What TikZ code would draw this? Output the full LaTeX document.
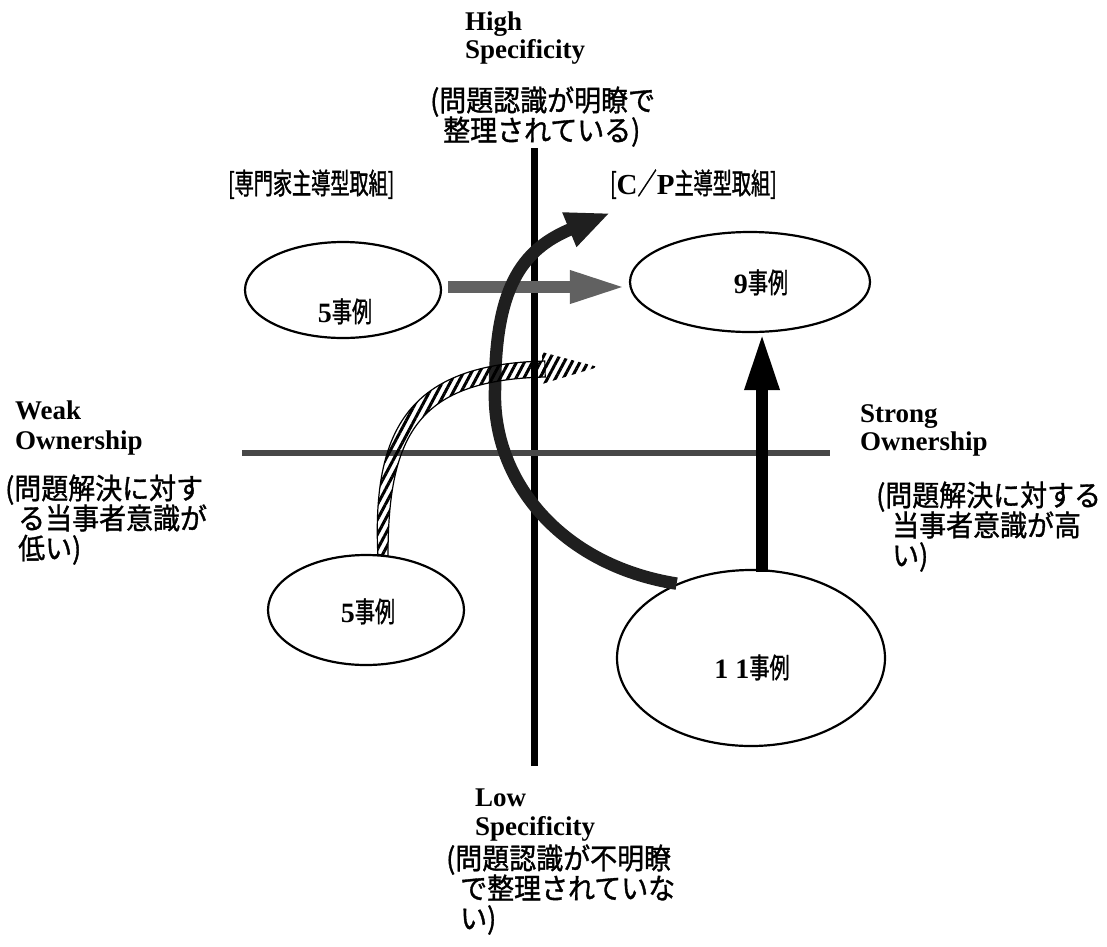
\documentclass[tikz,border=0pt]{standalone}
\usepackage{fontspec}
\setmainfont{Liberation Serif}
\newfontfamily\jpn[FakeStretch=0.93,FakeBold=1.2]{Noto Sans CJK JP}
\newfontfamily\jpc[FakeStretch=0.66,FakeBold=1.2]{Noto Sans CJK JP}
\newfontfamily\jpe[FakeStretch=0.72,FakeBold=1.2]{Noto Sans CJK JP}
\usetikzlibrary{arrows.meta,shapes.geometric,patterns.meta,calc}
\tikzset{
  lat/.style={anchor=base west, inner sep=0pt, font=\fontsize{27}{30}\selectfont\bfseries},
  jt/.style={anchor=base west, inner sep=0pt, font=\jpn\fontsize{29}{30}\selectfont},
  hd/.style={anchor=base west, inner sep=0pt, font=\jpc\fontsize{29}{30}\selectfont},
  el/.style={ellipse, draw, line width=2.2pt, inner sep=0pt},
  eltext/.style={anchor=base, inner sep=0pt, font=\jpe\fontsize{28}{30}\selectfont},
  axisv/.style={line width=7pt, black},
  axish/.style={line width=6pt, black!72},
  grayarrow/.style={line width=12pt, black!62, -{Triangle[length=56pt,width=30pt]}},
  blackarrow/.style={line width=12pt, black, -{Triangle[length=57pt,width=32pt]}},
  curvearrow/.style={line width=12.5pt, black!88, -{Triangle[length=44pt,width=34pt]}},
  hatch/.style={pattern={Lines[angle=62,distance=7pt,line width=3pt]}},
}
\begin{document}
\begin{tikzpicture}[x=1pt,y=-1pt]
\useasboundingbox (0,0) rectangle (1107,946);

% axes
\coordinate (vt) at (534,148);
\coordinate (vb) at (534,766);
\coordinate (hl) at (242,453);
\coordinate (hr) at (830,453);
\draw[axisv] (vt) -- (vb);
\draw[axish] (hl) -- (hr);

% ellipses
\node[el, minimum width=196pt, minimum height=96pt] (e1) at (343,290) {};
\node[el, minimum width=240pt, minimum height=100pt] (e2) at (750,282) {};
\node[el, minimum width=196pt, minimum height=110pt] (e3) at (366,610) {};
\node[el, minimum width=268pt, minimum height=176pt] (e4) at (751,658) {};

\node[eltext] (l1) at (345,322) {{\rmfamily\bfseries 5}事例};
\node[eltext] (l2) at (761,293) {{\rmfamily\bfseries 9}事例};
\node[eltext] (l3) at (368,622) {{\rmfamily\bfseries 5}事例};
\node[eltext] (l4) at (752,678) {{\rmfamily\bfseries 1 1}事例};

% arrows
\draw[grayarrow] ([shift={(6,-3)}]e1.east) -- ([shift={(-3,5)}]e2.west);
\draw[blackarrow] ([shift={(11,3)}]e4.north) -- ([xshift=12pt]e2.south);

\coordinate (ctip) at (610,213);
\draw[curvearrow] (e4.135) .. controls (560,565) and (492,480) .. (495,390)
   .. controls (495,290) and (520,250) .. (ctip);

% hatched arrow (band + head)
\coordinate (htip) at (598,367);
\filldraw[hatch, line width=1.2pt] (e3.78) .. controls (372,427.7) and (410.4,364.1) .. (544.8,361)
   -- (545.2,377) .. controls (419.6,379.9) and (388,432.3) .. (388,556) -- cycle;
\fill[hatch] (542,352) -- (htip) -- (542,384) -- cycle;

% texts
\node[lat] (hi1) at (465,30) {High};
\node[lat] (hi2) at (465,58) {Specificity};
\node[jt] (hi3) at (430,111) {(問題認識が明瞭で};
\node[jt] (hi4) at (443,141) {整理されている)};
\node[hd] (hdl) at (228,194) {[専門家主導型取組]};
\node[hd] (hdr) at (610,194) {[{\rmfamily\bfseries C}／{\rmfamily\bfseries P}主導型取組]};
\node[lat] (wk1) at (15,419) {Weak};
\node[lat] (wk2) at (15,449) {Ownership};
\node[jt] (wk3) at (5,499) {(問題解決に対す};
\node[jt] (wk4) at (18,529) {る当事者意識が};
\node[jt] (wk5) at (18,559) {低い)};
\node[lat] (st1) at (860,422) {Strong};
\node[lat] (st2) at (860,450) {Ownership};
\node[jt] (st3) at (876,506) {(問題解決に対する};
\node[jt] (st4) at (892,536) {当事者意識が高};
\node[jt] (st5) at (892,566) {い)};
\node[lat] (lo1) at (475,806) {Low};
\node[lat] (lo2) at (475,835) {Specificity};
\node[jt] (lo3) at (446,869) {(問題認識が不明瞭};
\node[jt] (lo4) at (460,899) {で整理されていな};
\node[jt] (lo5) at (460,929) {い)};
\end{tikzpicture}
\end{document}
